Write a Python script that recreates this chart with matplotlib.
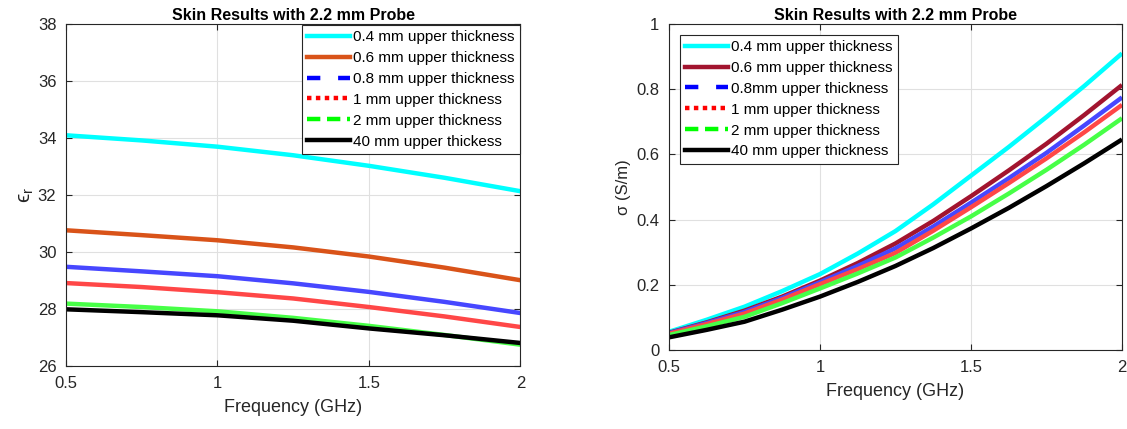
import numpy as np
import matplotlib.pyplot as plt
from matplotlib.lines import Line2D

plt.rcParams['font.family'] = ['Liberation Sans', 'DejaVu Sans']
plt.rcParams['mathtext.fontset'] = 'custom'
plt.rcParams['mathtext.rm'] = 'Liberation Sans'
plt.rcParams['mathtext.it'] = 'Liberation Sans'

# frequency points (GHz)
freq_eps = [0.5, 0.75, 1.0, 1.25, 1.5, 1.75, 2.0]
freq_sig = [0.5, 0.625, 0.75, 0.875, 1.0, 1.125, 1.25, 1.375, 1.5,
            1.625, 1.75, 1.875, 2.0]

# relative permittivity, left panel
eps_04 = [34.10, 33.92, 33.70, 33.40, 33.03, 32.61, 32.14]
eps_06 = [30.77, 30.60, 30.42, 30.17, 29.85, 29.46, 29.02]
eps_08 = [29.49, 29.33, 29.16, 28.91, 28.61, 28.26, 27.87]
eps_1 = [28.92, 28.78, 28.60, 28.38, 28.08, 27.75, 27.38]
eps_2 = [28.20, 28.08, 27.93, 27.70, 27.42, 27.10, 26.76]
eps_40 = [28.00, 27.90, 27.79, 27.60, 27.33, 27.09, 26.82]

# conductivity (S/m), right panel
sig_04 = [0.056, 0.093, 0.133, 0.181, 0.233, 0.296, 0.365, 0.447, 0.535,
          0.623, 0.715, 0.810, 0.910]
sig_06 = [0.053, 0.085, 0.121, 0.164, 0.213, 0.267, 0.327, 0.396, 0.472,
          0.551, 0.633, 0.721, 0.813]
sig_08 = [0.052, 0.083, 0.117, 0.160, 0.208, 0.258, 0.312, 0.379, 0.452,
          0.527, 0.605, 0.689, 0.775]
sig_1 = [0.050, 0.080, 0.112, 0.155, 0.202, 0.248, 0.298, 0.366, 0.438,
         0.512, 0.588, 0.668, 0.752]
sig_2 = [0.046, 0.073, 0.102, 0.144, 0.189, 0.235, 0.284, 0.345, 0.410,
         0.480, 0.553, 0.630, 0.711]
sig_40 = [0.039, 0.062, 0.087, 0.124, 0.164, 0.209, 0.258, 0.313, 0.373,
          0.436, 0.503, 0.573, 0.646]

labels_left = ['0.4 mm upper thickness', '0.6 mm upper thickness',
               '0.8 mm upper thickness', '1 mm upper thickness',
               '2 mm upper thickness', '40 mm upper thickess']
labels_right = ['0.4 mm upper thickness', '0.6 mm upper thickness',
                '0.8mm upper thickness', '1 mm upper thickness',
                '2 mm upper thickness', '40 mm upper thickness']

# style per series: plot colour, legend colour, legend linestyle
styles = ['-', '-', (0, (3, 4)), (0, (1, 1)), (0, (3, 1.5)), '-']
colors_left = ['#00ffff', '#d95319', '#4747ff', '#ff4747', '#47ff47', '#000000']
legend_left = ['#00ffff', '#d95319', '#0000ff', '#ff0000', '#00ff00', '#000000']
colors_right = ['#00ffff', '#a2142f', '#4747ff', '#ff4747', '#47ff47', '#000000']
legend_right = ['#00ffff', '#a2142f', '#0000ff', '#ff0000', '#00ff00', '#000000']

tick_col = '#262626'
lw = 3.2

fig = plt.figure(figsize=(11.27, 4.29), dpi=100)
ax1 = fig.add_axes([0.0586, 0.146, 0.4031, 0.798])
ax2 = fig.add_axes([0.5936, 0.184, 0.4020, 0.760])


def style_axes(ax):
    ax.grid(True, color='#e0e0e0', linewidth=0.8)
    ax.set_axisbelow(True)
    ax.tick_params(direction='in', top=True, right=True, labelsize=12,
                   colors=tick_col, length=4, width=0.8, pad=7)
    for s in ax.spines.values():
        s.set_color(tick_col)
        s.set_linewidth(0.8)


# left panel
for y, c in zip([eps_04, eps_06, eps_08, eps_1, eps_2, eps_40], colors_left):
    ax1.plot(freq_eps, y, color=c, linewidth=lw, solid_capstyle='butt')
ax1.set_xlim(0.5, 2)
ax1.set_ylim(26, 38)
ax1.set_xticks([0.5, 1, 1.5, 2])
ax1.set_xticklabels(['0.5', '1', '1.5', '2'])
ax1.set_yticks(np.arange(26, 39, 2))
style_axes(ax1)
ax1.set_xlabel('Frequency (GHz)', fontsize=13, color=tick_col, labelpad=6)
ax1.set_ylabel('\u03f5$_\\mathrm{r}$', fontsize=15, color=tick_col, labelpad=1)
ax1.set_title('Skin Results with 2.2 mm Probe', fontsize=11.5,
              fontweight='bold', pad=3)
h1 = [Line2D([], [], color=c, linestyle=s, linewidth=lw)
      for c, s in zip(legend_left, styles)]
leg1 = ax1.legend(h1, labels_left, loc='upper right', fontsize=11,
                  handlelength=2.8, handletextpad=0.2, labelspacing=0.45,
                  borderaxespad=0.05, borderpad=0.35, fancybox=False,
                  framealpha=1, edgecolor=tick_col)
leg1.get_frame().set_linewidth(0.8)

# right panel
for y, c in zip([sig_04, sig_06, sig_08, sig_1, sig_2, sig_40], colors_right):
    ax2.plot(freq_sig, y, color=c, linewidth=lw, solid_capstyle='butt')
ax2.set_xlim(0.5, 2)
ax2.set_ylim(0, 1)
ax2.set_xticks([0.5, 1, 1.5, 2])
ax2.set_xticklabels(['0.5', '1', '1.5', '2'])
ax2.set_yticks([0, 0.2, 0.4, 0.6, 0.8, 1])
ax2.set_yticklabels(['0', '0.2', '0.4', '0.6', '0.8', '1'])
style_axes(ax2)
ax2.set_xlabel('Frequency (GHz)', fontsize=13, color=tick_col, labelpad=6)
ax2.set_ylabel('\u03c3 (S/m)', fontsize=12, color=tick_col, labelpad=4)
ax2.set_title('Skin Results with 2.2 mm Probe', fontsize=11.5,
              fontweight='bold', pad=3)
h2 = [Line2D([], [], color=c, linestyle=s, linewidth=lw)
      for c, s in zip(legend_right, styles)]
leg2 = ax2.legend(h2, labels_right, loc='upper left', fontsize=11,
                  handlelength=2.8, handletextpad=0.2, labelspacing=0.45,
                  borderaxespad=0.7, borderpad=0.35, fancybox=False,
                  framealpha=1, edgecolor=tick_col)
leg2.get_frame().set_linewidth(0.8)

fig.savefig('out.png', dpi=100)
